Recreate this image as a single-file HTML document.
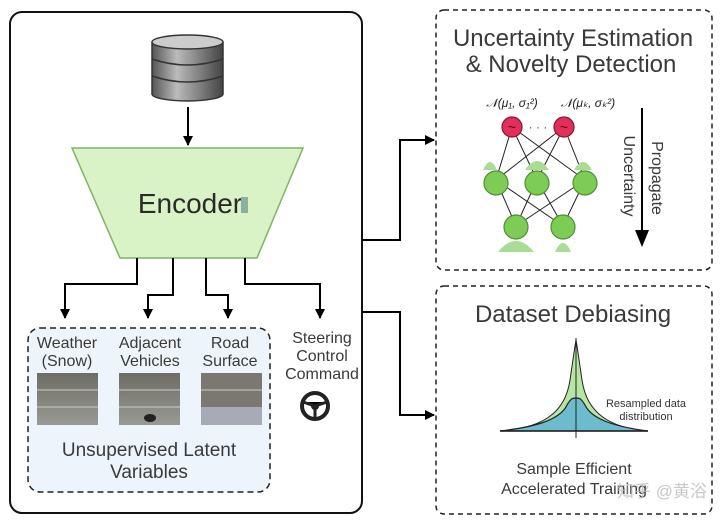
<!DOCTYPE html>
<html><head><meta charset="utf-8"><style>
body{margin:0;background:#fff;}
svg{display:block;font-family:"Liberation Sans","Noto Sans CJK SC",sans-serif;}
</style></head><body>
<svg width="720" height="524" viewBox="0 0 720 524" xmlns="http://www.w3.org/2000/svg">
<defs>
<marker id="ah" markerWidth="10" markerHeight="10" refX="9" refY="5" orient="auto" markerUnits="userSpaceOnUse"><path d="M0,0 L10,5 L0,10 z" fill="#000"/></marker>
<linearGradient id="db" x1="0" x2="1"><stop offset="0" stop-color="#555"/><stop offset="0.35" stop-color="#bbb"/><stop offset="1" stop-color="#444"/></linearGradient>
<linearGradient id="road" x1="0" y1="0" x2="0" y2="1"><stop offset="0" stop-color="#6d6d66"/><stop offset="1" stop-color="#9a9a94"/></linearGradient>
</defs>
<rect x="10" y="12" width="352" height="501" rx="12" fill="#fff" stroke="#111" stroke-width="2"/>
<g stroke="#333" stroke-width="1.5">
<ellipse cx="187.5" cy="94" rx="35.5" ry="7" fill="url(#db)"/>
<rect x="152" y="42" width="71" height="52" fill="url(#db)" stroke="none"/>
<path d="M152,59 q35.5,12 71,0 M152,76 q35.5,12 71,0" fill="none"/>
<path d="M152,42 v52 M223,42 v52" fill="none"/>
<ellipse cx="187.5" cy="42" rx="35.5" ry="7" fill="#ccc"/>
</g>
<line x1="188" y1="107" x2="188" y2="145" stroke="#000" stroke-width="2" marker-end="url(#ah)"/>
<polygon points="72,148 303,148 257,258 120,258" fill="#d9f2c6" stroke="#7fb36a" stroke-width="1.5"/>
<text x="190" y="213" font-size="28" fill="#2a2a2a" text-anchor="middle">Encoder</text>
<rect x="241" y="197" width="7" height="16" fill="#8ab0a0"/>
<g fill="none" stroke="#000" stroke-width="2">
<path d="M137,258 V284 H65 V318" marker-end="url(#ah)"/>
<path d="M173,258 V295 H148 V318" marker-end="url(#ah)"/>
<path d="M206,258 V295 H228 V318" marker-end="url(#ah)"/>
<path d="M245,258 V284 H320 V318" marker-end="url(#ah)"/>
<path d="M362,240 H400 V140 H434" marker-end="url(#ah)"/>
<path d="M362,312 H400 V415 H434" marker-end="url(#ah)"/>
</g>
<rect x="28" y="328" width="242" height="164" rx="12" fill="#eef4fb" stroke="#222" stroke-width="1.5" stroke-dasharray="6,4"/>
<g font-size="16" fill="#3a3a3a" text-anchor="middle">
<text x="67" y="348">Weather</text><text x="67" y="366">(Snow)</text>
<text x="150" y="348">Adjacent</text><text x="150" y="366">Vehicles</text>
<text x="230" y="348">Road</text><text x="230" y="366">Surface</text>
<text x="322" y="343">Steering</text><text x="322" y="361">Control</text><text x="322" y="379">Command</text>
<text x="149" y="456" font-size="19">Unsupervised Latent</text>
<text x="149" y="478" font-size="19">Variables</text>
</g>
<g>
<rect x="37" y="373" width="61" height="52" fill="url(#road)"/>
<rect x="119" y="373" width="61" height="52" fill="url(#road)"/>
<rect x="201" y="373" width="61" height="52" fill="#7a7870"/>
<rect x="201" y="407" width="61" height="18" fill="#a8aab8"/>
<g stroke="#ccc" stroke-width="1"><line x1="37" y1="390" x2="98" y2="390"/><line x1="37" y1="407" x2="98" y2="407"/><line x1="119" y1="390" x2="180" y2="390"/><line x1="119" y1="407" x2="180" y2="407"/><line x1="201" y1="390" x2="262" y2="390"/></g>
<ellipse cx="150" cy="418" rx="6" ry="4" fill="#222"/>
</g>
<circle cx="315" cy="406" r="13" fill="none" stroke="#222" stroke-width="4"/>
<circle cx="315" cy="406" r="4" fill="#222"/>
<path d="M303,402 L315,406 L327,402 M315,406 L315,418" stroke="#222" stroke-width="3"/>
<rect x="436" y="10" width="276" height="260" rx="8" fill="#fff" stroke="#222" stroke-width="1.5" stroke-dasharray="5,4"/>
<text x="573" y="46" font-size="24" fill="#3a3a3a" text-anchor="middle">Uncertainty Estimation</text>
<text x="571" y="72" font-size="24" fill="#3a3a3a" text-anchor="middle">&amp; Novelty Detection</text>
<text x="512" y="107" font-size="12" fill="#222" text-anchor="middle" font-style="italic">𝒩(μ₁, σ₁²)</text>
<text x="588" y="107" font-size="12" fill="#222" text-anchor="middle" font-style="italic">𝒩(μₖ, σₖ²)</text>
<g stroke="#222" stroke-width="1">
<line x1="512" y1="127" x2="496" y2="180"/><line x1="512" y1="127" x2="537" y2="180"/><line x1="512" y1="127" x2="585" y2="180"/>
<line x1="564" y1="127" x2="496" y2="180"/><line x1="564" y1="127" x2="537" y2="180"/><line x1="564" y1="127" x2="585" y2="180"/>
<line x1="496" y1="180" x2="516" y2="226"/><line x1="496" y1="180" x2="563" y2="226"/>
<line x1="537" y1="180" x2="516" y2="226"/><line x1="537" y1="180" x2="563" y2="226"/>
<line x1="585" y1="180" x2="516" y2="226"/><line x1="585" y1="180" x2="563" y2="226"/>
</g>
<text x="538" y="131" font-size="12" fill="#555" text-anchor="middle">· · ·</text>
<g fill="#a9dc95">
<path d="M483,170 q7,-16 14,0z"/><path d="M525,170 q12,-18 24,0z"/><path d="M574,170 q9,-16 18,0z"/>
<path d="M498,252 q18,-22 36,0z"/><path d="M555,252 q8,-18 16,0z"/>
</g>
<g fill="#7dcc55" stroke="#4f8f34" stroke-width="1.2">
<circle cx="496" cy="183" r="12"/><circle cx="537" cy="183" r="12"/><circle cx="585" cy="183" r="12"/>
<circle cx="516" cy="227" r="12"/><circle cx="563" cy="227" r="12"/>
</g>
<g fill="#e0305a" stroke="#8a1530" stroke-width="1.2">
<circle cx="512" cy="127" r="10"/><circle cx="564" cy="127" r="10"/>
</g>
<text x="512" y="132" font-size="14" fill="#600" text-anchor="middle">~</text>
<text x="564" y="132" font-size="14" fill="#600" text-anchor="middle">~</text>
<line x1="642" y1="108" x2="642" y2="244" stroke="#000" stroke-width="2"/>
<path d="M635,230 L649,230 L642,247 z" fill="#000"/>
<text transform="translate(652,178) rotate(90)" font-size="16" fill="#3a3a3a" text-anchor="middle">Propagate</text>
<text transform="translate(624,176) rotate(90)" font-size="16" fill="#3a3a3a" text-anchor="middle">Uncertainty</text>
<rect x="436" y="286" width="276" height="228" rx="8" fill="#fff" stroke="#222" stroke-width="1.5" stroke-dasharray="5,4"/>
<text x="573" y="322" font-size="24" fill="#3a3a3a" text-anchor="middle">Dataset Debiasing</text>
<path d="M500,431 C540,428 565,415 570,380 C573,360 575,345 576,340 C577,345 579,360 582,380 C587,415 612,428 648,431 Z" fill="#b6e6a6" stroke="#222" stroke-width="1"/>
<path d="M500,431 C535,427 560,420 567,405 C571,398 573,398 576,398 C579,398 581,398 585,405 C592,420 617,427 648,431 Z" fill="#6cbccd" stroke="#222" stroke-width="1.2"/>
<line x1="576" y1="338" x2="576" y2="438" stroke="#222" stroke-width="1"/>
<line x1="500" y1="431" x2="648" y2="431" stroke="#222" stroke-width="1.5"/>
<text x="646" y="407" font-size="11" fill="#333" text-anchor="middle">Resampled data</text>
<text x="646" y="420" font-size="11" fill="#333" text-anchor="middle">distribution</text>
<text x="574" y="474" font-size="16" fill="#3a3a3a" text-anchor="middle">Sample Efficient</text>
<text x="574" y="494" font-size="16" fill="#3a3a3a" text-anchor="middle">Accelerated Training</text>
<text x="662" y="497" font-size="17" fill="#bbb" text-anchor="middle" opacity="0.8">知乎 @黄浴</text>
</svg>
</body></html>
